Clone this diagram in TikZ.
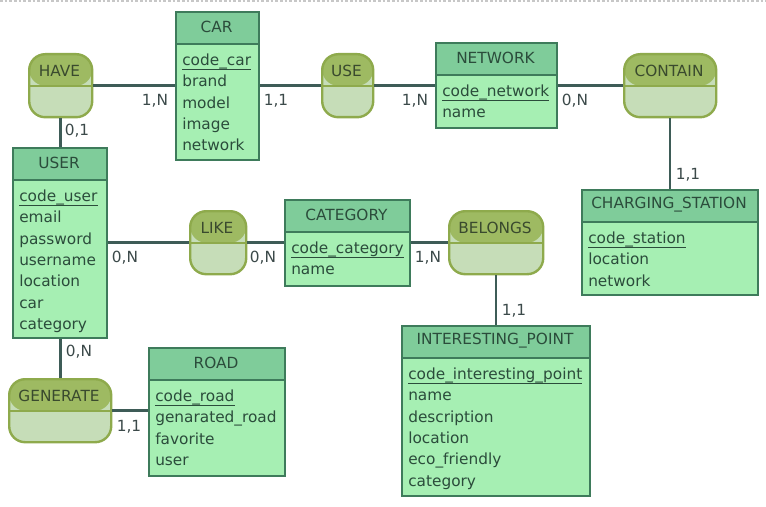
\documentclass[tikz,border=0pt]{standalone}
\usepackage{fontspec}
\setmainfont{DejaVu Sans}
\usetikzlibrary{calc}
\definecolor{entborder}{HTML}{3E7B5B}
\definecolor{enthead}{HTML}{7FCC9A}
\definecolor{entbody}{HTML}{A6EFB3}
\definecolor{relborder}{HTML}{8EAA4C}
\definecolor{reltop}{HTML}{9EBA62}
\definecolor{relbot}{HTML}{C6DDB8}
\definecolor{enttext}{HTML}{2B4C3B}
\definecolor{reltext}{HTML}{3A4A2E}
\definecolor{cardtext}{HTML}{3C4A4A}
\definecolor{connc}{HTML}{3E5C57}
\tikzset{
  x=0.75pt, y=-0.75pt,
  every node/.style={font=\fontsize{11.5pt}{13pt}\selectfont},
  entity/.style={draw=entborder, line width=1.8pt, fill=entbody, inner sep=0pt, rectangle,
    path picture={
      \fill[enthead] (path picture bounding box.north west) rectangle ($(path picture bounding box.north east)+(0,32)$);
      \draw[entborder, line width=1.3pt] ($(path picture bounding box.north west)+(0,32)$) -- ($(path picture bounding box.north east)+(0,32)$);
    }},
  relation/.style={draw=relborder, line width=1.8pt, fill=relbot, rounded corners=12pt, inner sep=0pt, rectangle,
    path picture={
      \fill[reltop] (path picture bounding box.north west) rectangle (path picture bounding box.east);
      \draw[relborder, line width=1.3pt] (path picture bounding box.west) -- (path picture bounding box.east);
    }},
  enttitle/.style={text=enttext, inner sep=0pt},
  reltitle/.style={text=reltext, inner sep=0pt},
  attr/.style={text=enttext, anchor=west, inner sep=0pt, text height=0.75em, text depth=0.2em},
  keyline/.style={draw=enttext, line width=0.9pt},
  card/.style={text=cardtext, inner sep=0pt},
  conn/.style={draw=connc, line width=1.9pt},
}
\newcommand\ent[8]{%
  \pgfmathsetmacro\ew{(#4-#2)*0.75}%
  \pgfmathsetmacro\eh{(#5-#3)*0.75}%
  \node[entity, minimum width=\ew pt, minimum height=\eh pt, anchor=north west] (#1) at (#2,#3) {};
  \node[enttitle] (#1-t) at ({(#2+#4)/2},#3+16) {#6};
  \node[attr] (#1-k) at (#2+7,#3+51) {#7};
  \draw[keyline] ($(#1-k.south west)+(0,1.2)$) -- ($(#1-k.south east)+(0,1.2)$);
  \foreach \t [count=\i] in {#8} {\node[attr] (#1-a\i) at (#2+7,{#3+51+21.3*\i}) {\t};}
}
\newcommand\rel[6]{%
  \pgfmathsetmacro\ew{(#4-#2)*0.75}%
  \pgfmathsetmacro\eh{(#5-#3)*0.75}%
  \node[relation, minimum width=\ew pt, minimum height=\eh pt, anchor=north west] (#1) at (#2,#3) {};
  \node[reltitle] (#1-t) at ({(#2+#4)/2},#3+18) {#6};
}
\begin{document}
\begin{tikzpicture}
\useasboundingbox (0,0) rectangle (766,506);
\fill[white] (0,0) rectangle (766,506);
\coordinate (topl) at (0,1);
\coordinate (topr) at (766,1);
\draw[black!22, dash pattern=on 2pt off 1.5pt, line width=0.8pt] (topl) -- (topr);

% entities
\ent{car}{175}{11}{258}{159}{CAR}{code\_car}{brand,model,image,network}
\ent{network}{435}{42}{556}{127}{NETWORK}{code\_network}{name}
\ent{user}{12}{147}{106}{337}{USER}{code\_user}{email,password,username,location,car,category}
\ent{category}{284}{199}{409}{285}{CATEGORY}{code\_category}{name}
\ent{station}{581}{189}{757}{294}{CHARGING\_STATION}{code\_station}{location,network}
\ent{road}{148}{347}{284}{475}{ROAD}{code\_road}{genarated\_road,favorite,user}
\ent{ip}{401}{325}{589}{495}{INTERESTING\_POINT}{code\_interesting\_point}{name,description,location,eco\_friendly,category}

% relations
\rel{have}{28}{53}{91}{116}{HAVE}
\rel{use}{321}{53}{372}{116}{USE}
\rel{contain}{623}{53}{715}{116}{CONTAIN}
\rel{like}{189}{210}{245}{273}{LIKE}
\rel{belongs}{448}{210}{542}{273}{BELONGS}
\rel{generate}{8}{378}{110}{441}{GENERATE}

% connectors
\draw[conn] (have.east) -- (have.east -| car.west);
\draw[conn] (have.south) -- (have.south |- user.north);
\draw[conn] (car.east |- use.west) -- (use.west);
\draw[conn] (use.east) -- (use.east -| network.west);
\draw[conn] (network.east |- contain.west) -- (contain.west);
\draw[conn] (contain.south) -- (contain.south |- station.north);
\draw[conn] (user.east |- like.west) -- (like.west);
\draw[conn] (like.east) -- (like.east -| category.west);
\draw[conn] (category.east |- belongs.west) -- (belongs.west);
\draw[conn] (belongs.south) -- (belongs.south |- ip.north);
\draw[conn] (user.south -| have.south) -- (have.south |- generate.north);
\draw[conn] (generate.east) -- (generate.east -| road.west);

% cardinalities
\node[card] (c1) at (155,101) {1,N};
\node[card] (c2) at (77,131) {0,1};
\node[card] (c3) at (276,101) {1,1};
\node[card] (c4) at (415,101) {1,N};
\node[card] (c5) at (575,101) {0,N};
\node[card] (c6) at (688,175) {1,1};
\node[card] (c7) at (125,258) {0,N};
\node[card] (c8) at (263,258) {0,N};
\node[card] (c9) at (428,258) {1,N};
\node[card] (c10) at (514,311) {1,1};
\node[card] (c11) at (79,352) {0,N};
\node[card] (c12) at (129,427) {1,1};
\end{tikzpicture}
\end{document}
